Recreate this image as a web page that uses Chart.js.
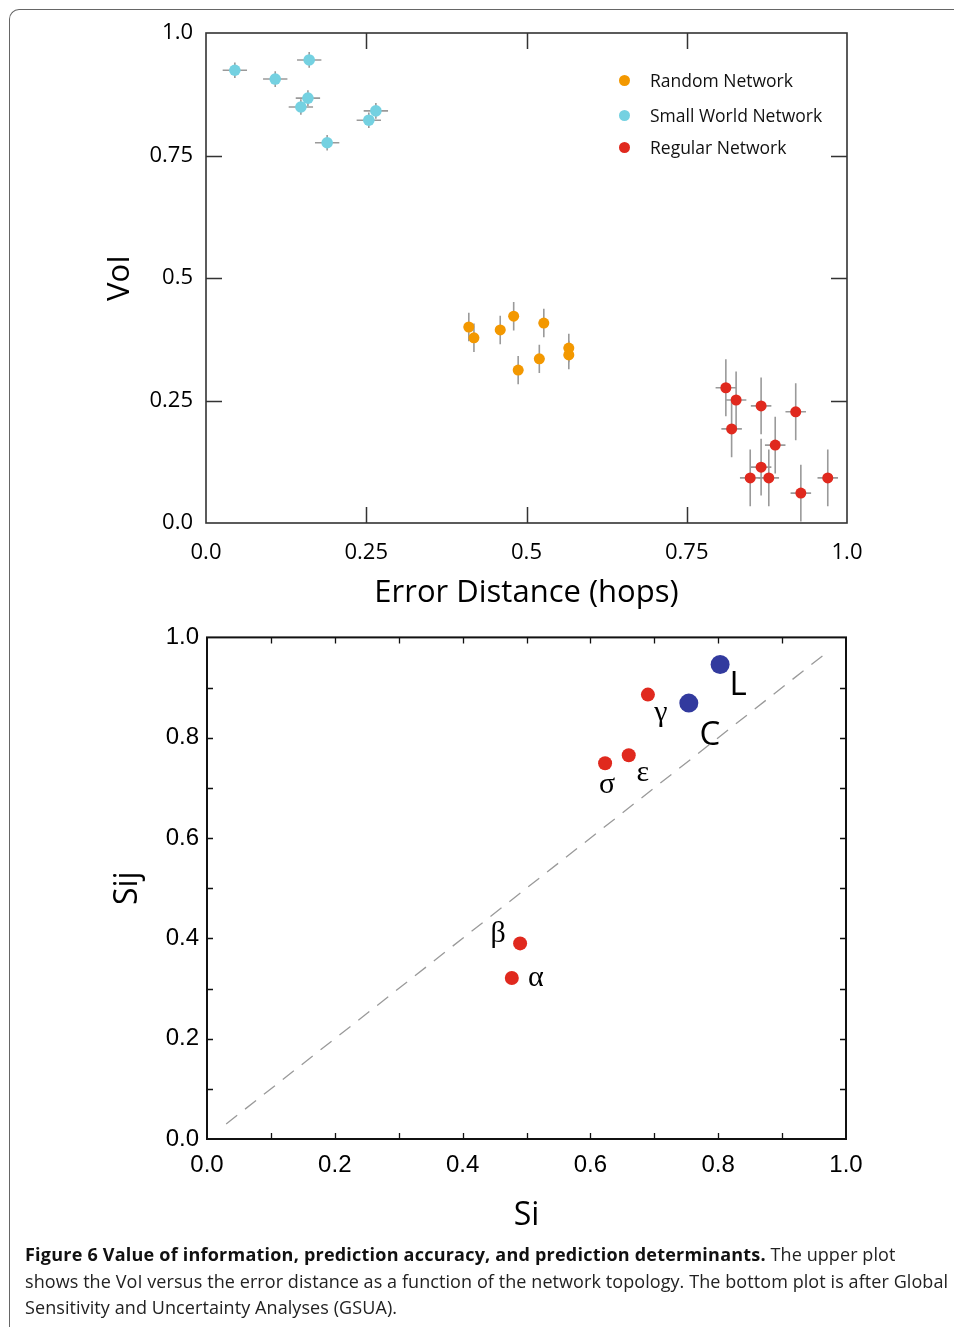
<!DOCTYPE html>
<html>
<head>
<meta charset="utf-8">
<script src="https://cdn.jsdelivr.net/npm/chart.js@4.4.1/dist/chart.umd.min.js"></script>
<style>
  html, body { margin: 0; padding: 0; background: #fff; }
  body { width: 954px; height: 1327px; position: relative; overflow: hidden; }
  .frame {
    position: absolute; left: 9px; top: 9px; width: 980px; height: 1360px;
    border-left: 1px solid #666; border-top: 1px solid #666; border-top-left-radius: 10px;
  }
  canvas { position: absolute; left: 0; }
  #legend { position: absolute; left: 0; top: 0; font-family: "Open Sans", sans-serif; font-size: 17.5px; color: #111; }
  #legend .row { position: absolute; white-space: nowrap; line-height: 20px; }
  #legend .dot { position: absolute; width: 11px; height: 11px; border-radius: 50%; top: 5px; left: 0; }
  #legend .txt { position: absolute; left: 31px; top: 0; }
  #caption {
    position: absolute; left: 25px; top: 1241px; width: 929px;
    font-family: "Open Sans", sans-serif; font-size: 18px; line-height: 26.5px; color: #222;
    letter-spacing: 0.08px;
  }
  #caption div { white-space: nowrap; }
  #caption b { font-weight: 700; color: #111; letter-spacing: 0.22px; }
</style>
</head>
<body>
<div class="frame"></div>
<canvas id="top-chart" width="954" height="620" style="top:0"></canvas>
<canvas id="bottom-chart" width="954" height="620" style="top:615px"></canvas>
<div id="legend"></div>
<div id="caption">
  <div><b>Figure 6 Value of information, prediction accuracy, and prediction determinants.</b> The upper plot</div>
  <div>shows the VoI versus the error distance as a function of the network topology. The bottom plot is after Global</div>
  <div>Sensitivity and Uncertainty Analyses (GSUA).</div>
</div>
<script>
  // upper plot: VoI vs error distance
  const topTickValues = [0, 0.25, 0.5, 0.75, 1];
  const topTickLabels = ['0.0', '0.25', '0.5', '0.75', '1.0'];

  const randomX = [0.410, 0.418, 0.459, 0.480, 0.527, 0.487, 0.520, 0.566, 0.566];
  const randomY = [0.400, 0.378, 0.394, 0.422, 0.408, 0.312, 0.335, 0.357, 0.343];
  const randomXErr = [0.008, 0.008, 0.008, 0.008, 0.008, 0.008, 0.008, 0.008, 0.008];
  const randomYErr = [0.029, 0.029, 0.029, 0.029, 0.029, 0.029, 0.029, 0.029, 0.029];

  const smallWorldX = [0.045, 0.108, 0.161, 0.159, 0.148, 0.189, 0.265, 0.254];
  const smallWorldY = [0.924, 0.906, 0.945, 0.867, 0.849, 0.776, 0.841, 0.822];
  const smallWorldXErr = [0.019, 0.019, 0.019, 0.019, 0.019, 0.019, 0.019, 0.019];
  const smallWorldYErr = [0.016, 0.016, 0.016, 0.016, 0.016, 0.016, 0.016, 0.016];

  const regularX = [0.811, 0.827, 0.866, 0.920, 0.820, 0.888, 0.866, 0.849, 0.878, 0.928, 0.970];
  const regularY = [0.276, 0.251, 0.239, 0.227, 0.192, 0.159, 0.114, 0.092, 0.092, 0.061, 0.092];
  const regularXErr = [0.016, 0.016, 0.016, 0.016, 0.016, 0.016, 0.016, 0.016, 0.016, 0.016, 0.016];
  const regularYErr = [0.058, 0.058, 0.058, 0.058, 0.058, 0.058, 0.058, 0.058, 0.058, 0.058, 0.058];

  const topSeries = ['Random Network', 'Small World Network', 'Regular Network'];

  // lower plot: GSUA indices
  const bottomTickValues = [0, 0.1, 0.2, 0.3, 0.4, 0.5, 0.6, 0.7, 0.8, 0.9, 1];
  const bottomTickLabels = ['0.0', '', '0.2', '', '0.4', '', '0.6', '', '0.8', '', '1.0'];

  const greekNames = ['α', 'β', 'σ', 'ε', 'γ'];
  const greekSi = [0.477, 0.490, 0.623, 0.660, 0.690];
  const greekSij = [0.321, 0.390, 0.749, 0.765, 0.886];

  const latinNames = ['C', 'L'];
  const latinSi = [0.754, 0.803];
  const latinSij = [0.869, 0.946];

  const diagonal = [0.03, 0.975];

  const COLORS = {
    random: '#f39800',
    smallWorld: '#74d1e1',
    regular: '#e0291e',
    red: '#e0291e',
    blue: '#323a9e',
    errorBar: '#9a9a9a',
    dashed: '#9a9a9a',
  };

  const TOP_FONT = '"Open Sans", sans-serif';
  const BOTTOM_FONT = '"Liberation Sans", Arial, sans-serif';

  // pixel offsets of the point labels in the lower plot (label centre minus point centre)
  const LABEL_OFFSETS = {
    'α': [24, 0], 'β': [-22, -9], 'σ': [2, 22], 'ε': [14, 18], 'γ': [13, 19],
    'C': [21, 32], 'L': [18, 21],
  };

  function toPoints(xs, ys) {
    return xs.map((x, i) => ({ x, y: ys[i] }));
  }

  // draws the box around the plot and inward tick marks on all four sides
  const frameTicks = {
    id: 'frameTicks',
    afterDatasetsDraw(chart, args, opts) {
      const { ctx, chartArea: a, scales } = chart;
      ctx.save();
      ctx.strokeStyle = opts.color;
      ctx.lineWidth = opts.width;
      ctx.strokeRect(a.left, a.top, a.right - a.left, a.bottom - a.top);
      ctx.lineWidth = opts.tickWidth;
      ctx.beginPath();
      opts.xValues.forEach((v) => {
        if (v <= 0 || v >= 1) return;
        const px = Math.round(scales.x.getPixelForValue(v)) + 0.5;
        ctx.moveTo(px, a.bottom); ctx.lineTo(px, a.bottom - opts.length);
        ctx.moveTo(px, a.top); ctx.lineTo(px, a.top + opts.length);
      });
      opts.yValues.forEach((v) => {
        if (v <= 0 || v >= 1) return;
        const py = Math.round(scales.y.getPixelForValue(v)) + 0.5;
        ctx.moveTo(a.left, py); ctx.lineTo(a.left + opts.length, py);
        ctx.moveTo(a.right, py); ctx.lineTo(a.right - opts.length, py);
      });
      ctx.stroke();
      ctx.restore();
    },
  };

  const errorBars = {
    id: 'errorBars',
    beforeDatasetsDraw(chart) {
      const { ctx, scales } = chart;
      ctx.save();
      ctx.strokeStyle = COLORS.errorBar;
      ctx.lineWidth = 1.6;
      chart.data.datasets.forEach((ds) => {
        if (!ds.xErr) return;
        ds.data.forEach((p, i) => {
          const x0 = scales.x.getPixelForValue(p.x - ds.xErr[i]);
          const x1 = scales.x.getPixelForValue(p.x + ds.xErr[i]);
          const y0 = scales.y.getPixelForValue(p.y - ds.yErr[i]);
          const y1 = scales.y.getPixelForValue(p.y + ds.yErr[i]);
          const cx = scales.x.getPixelForValue(p.x);
          const cy = scales.y.getPixelForValue(p.y);
          ctx.beginPath();
          ctx.moveTo(x0, cy); ctx.lineTo(x1, cy);
          ctx.moveTo(cx, y0); ctx.lineTo(cx, y1);
          ctx.stroke();
        });
      });
      ctx.restore();
    },
  };

  const pointLabels = {
    id: 'pointLabels',
    afterDatasetsDraw(chart) {
      const { ctx } = chart;
      ctx.save();
      ctx.fillStyle = '#000';
      ctx.textAlign = 'center';
      ctx.textBaseline = 'middle';
      chart.data.datasets.forEach((ds, di) => {
        if (!ds.names) return;
        ctx.font = ds.labelFont;
        chart.getDatasetMeta(di).data.forEach((el, i) => {
          const name = ds.names[i];
          const off = LABEL_OFFSETS[name] || [0, 0];
          ctx.fillText(name, el.x + off[0], el.y + off[1]);
        });
      });
      ctx.restore();
    },
  };

  function fixedTicks(values) {
    return (scale) => { scale.ticks = values.map((value) => ({ value })); };
  }

  function scatterSet(label, xs, ys, color, radius, extra) {
    return Object.assign({
      type: 'scatter',
      label,
      data: toPoints(xs, ys),
      backgroundColor: color,
      borderColor: color,
      borderWidth: 0,
      pointRadius: radius,
      pointHoverRadius: radius,
    }, extra || {});
  }

  const topChart = new Chart(document.getElementById('top-chart'), {
    type: 'scatter',
    data: {
      datasets: [
        scatterSet(topSeries[0], randomX, randomY, COLORS.random, 5.5, { xErr: randomXErr, yErr: randomYErr }),
        scatterSet(topSeries[1], smallWorldX, smallWorldY, COLORS.smallWorld, 5.8, { xErr: smallWorldXErr, yErr: smallWorldYErr }),
        scatterSet(topSeries[2], regularX, regularY, COLORS.regular, 5.5, { xErr: regularXErr, yErr: regularYErr }),
      ],
    },
    options: {
      responsive: false,
      animation: false,
      events: [],
      devicePixelRatio: 1,
      layout: { padding: { left: 0, right: 107, top: 33, bottom: 0 } },
      plugins: {
        legend: { display: false },
        tooltip: { enabled: false },
        frameTicks: { color: '#333', width: 1.6, tickWidth: 1.5, length: 16, xValues: topTickValues, yValues: topTickValues },
      },
      scales: {
        x: {
          type: 'linear', min: 0, max: 1,
          afterBuildTicks: fixedTicks(topTickValues),
          afterFit: (s) => { s.height = 97; },
          grid: { display: false, drawTicks: false },
          border: { display: false },
          ticks: {
            padding: 17, color: '#000', maxRotation: 0, autoSkip: false,
            font: { family: TOP_FONT, size: 22 },
            callback: (v, i) => topTickLabels[i],
          },
          title: { display: true, text: 'Error Distance (hops)', color: '#000', font: { family: TOP_FONT, size: 31 }, padding: { top: 0, bottom: 8 } },
        },
        y: {
          type: 'linear', min: 0, max: 1,
          afterBuildTicks: fixedTicks(topTickValues),
          afterFit: (s) => { s.width = 206; },
          grid: { display: false, drawTicks: false },
          border: { display: false },
          ticks: {
            padding: 13, color: '#000', autoSkip: false,
            font: { family: TOP_FONT, size: 22 },
            callback: (v, i) => topTickLabels[i],
          },
          title: { display: true, text: 'VoI', color: '#000', font: { family: TOP_FONT, size: 31 }, padding: { top: 102, bottom: 0 } },
        },
      },
    },
    plugins: [errorBars, frameTicks],
  });

  const bottomChart = new Chart(document.getElementById('bottom-chart'), {
    type: 'scatter',
    data: {
      datasets: [
        {
          type: 'line',
          label: 'Si = Sij',
          data: toPoints(diagonal, diagonal),
          borderColor: COLORS.dashed,
          borderWidth: 1.3,
          borderDash: [14, 10],
          pointRadius: 0,
          fill: false,
        },
        scatterSet('interaction parameters', greekSi, greekSij, COLORS.red, 7, { names: greekNames, labelFont: '30px "Liberation Serif", serif' }),
        scatterSet('topology parameters', latinSi, latinSij, COLORS.blue, 9.5, { names: latinNames, labelFont: '33px ' + TOP_FONT }),
      ],
    },
    options: {
      responsive: false,
      animation: false,
      events: [],
      devicePixelRatio: 1,
      layout: { padding: { left: 0, right: 108, top: 17, bottom: 0 } },
      plugins: {
        legend: { display: false },
        tooltip: { enabled: false },
        frameTicks: { color: '#111', width: 2, tickWidth: 1.3, length: 6, xValues: bottomTickValues, yValues: bottomTickValues },
      },
      scales: {
        x: {
          type: 'linear', min: 0, max: 1,
          afterBuildTicks: fixedTicks(bottomTickValues),
          afterFit: (s) => { s.height = 96; },
          grid: { display: false, drawTicks: false },
          border: { display: false },
          ticks: {
            padding: 12, color: '#000', maxRotation: 0, autoSkip: false,
            font: { family: BOTTOM_FONT, size: 24 },
            callback: (v, i) => bottomTickLabels[i],
          },
          title: { display: true, text: 'Si', color: '#000', font: { family: TOP_FONT, size: 32 }, padding: { top: 0, bottom: 0 } },
        },
        y: {
          type: 'linear', min: 0, max: 1,
          afterBuildTicks: fixedTicks(bottomTickValues),
          afterFit: (s) => { s.width = 207; },
          grid: { display: false, drawTicks: false },
          border: { display: false },
          ticks: {
            padding: 8, color: '#000', autoSkip: false,
            font: { family: BOTTOM_FONT, size: 24 },
            callback: (v, i) => bottomTickLabels[i],
          },
          title: { display: true, text: 'Sij', color: '#000', font: { family: TOP_FONT, size: 32 }, padding: { top: 109, bottom: 0 } },
        },
      },
    },
    plugins: [pointLabels, frameTicks],
  });

  // legend of the upper plot, built from the chart's datasets
  (function buildLegend() {
    const legend = document.getElementById('legend');
    const rowTops = [70, 105, 137];
    topChart.data.datasets.forEach((ds, i) => {
      const row = document.createElement('div');
      row.className = 'row';
      row.style.left = '619px';
      row.style.top = rowTops[i] + 'px';
      row.innerHTML = `<span class="dot" style="background:${ds.backgroundColor}"></span><span class="txt">${ds.label}</span>`;
      legend.appendChild(row);
    });
  })();
</script>
</body>
</html>
